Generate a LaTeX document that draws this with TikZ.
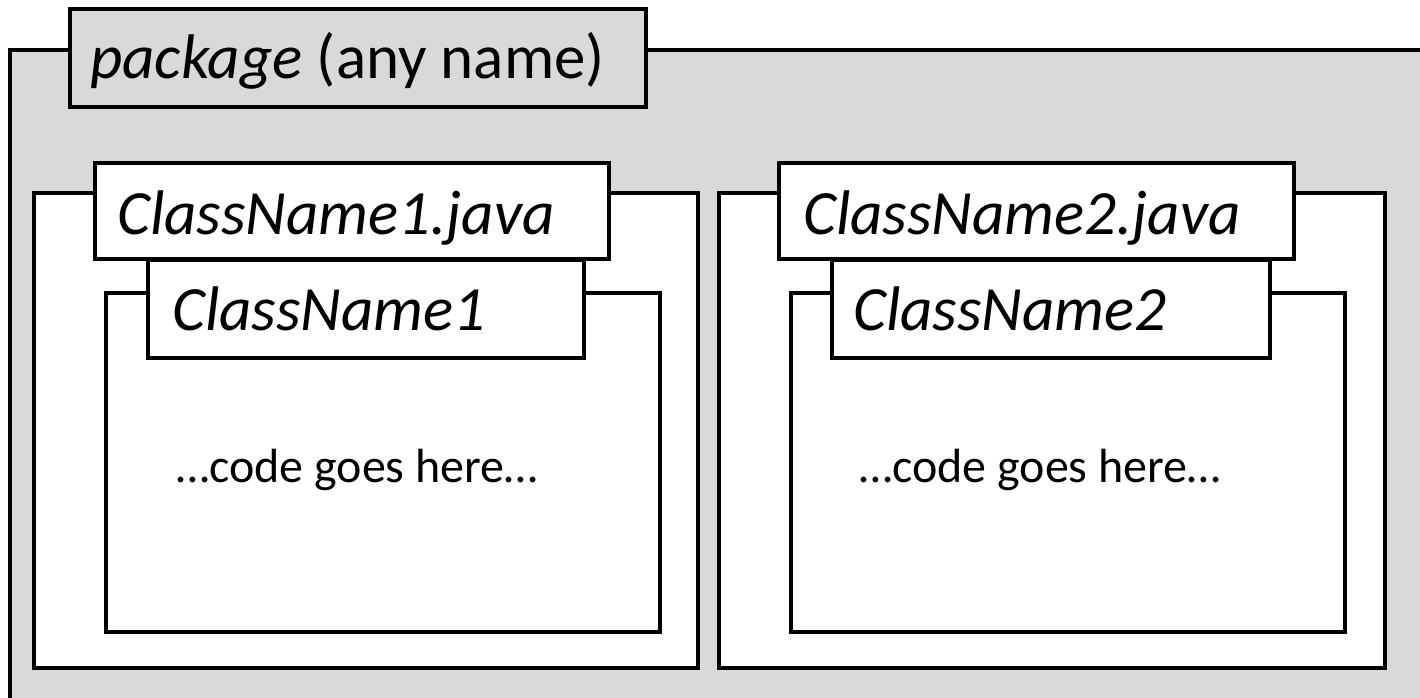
\documentclass[tikz,border=0pt]{standalone}
\usepackage{fontspec}
\setmainfont{Carlito}
\usetikzlibrary{fit}
\definecolor{pkggray}{RGB}{217,217,217}
\begin{document}
\begin{tikzpicture}[x=1pt,y=-1pt,
  box/.style={draw=black, line width=3.5pt, inner sep=0pt, fill=white},
  graybox/.style={box, fill=pkggray},
  title/.style={anchor=base west, inner sep=0pt, font=\fontsize{63}{70}\selectfont\itshape},
  code/.style={anchor=base, inner sep=0pt, font=\fontsize{48}{56}\selectfont}]
\useasboundingbox (0,0) rectangle (1420,697);
\clip (0,0) rectangle (1420,697);
% package
\node[graybox, fit={(10,50) (1440,720)}] (pkg) {};
\node[graybox, fit={(70,9) (646,107)}] (pkgtab) {};
\node[title] (pkgtxt) at (90,78) {package\upshape{} (any name)};
% file 1
\node[box, fit={(34,193) (698,668)}] (file1) {};
\node[box, fit={(95,163) (609,259)}] (file1tab) {};
\node[title] (file1txt) at (117,234) {ClassName1.java};
\node[box, fit={(106,293) (660,632)}] (class1) {};
\node[box, fit={(148,260) (584,358)}] (class1tab) {};
\node[title] (class1txt) at (172,330) {ClassName1};
\node[code] (code1) at (357,482) {…code goes here…};
% file 2
\node[box, fit={(719,193) (1385,668)}] (file2) {};
\node[box, fit={(779,163) (1294,259)}] (file2tab) {};
\node[title] (file2txt) at (803,234) {ClassName2.java};
\node[box, fit={(791,293) (1345,632)}] (class2) {};
\node[box, fit={(832,260) (1270,358)}] (class2tab) {};
\node[title] (class2txt) at (853,330) {ClassName2};
\node[code] (code2) at (1040,482) {…code goes here…};
\end{tikzpicture}
\end{document}
